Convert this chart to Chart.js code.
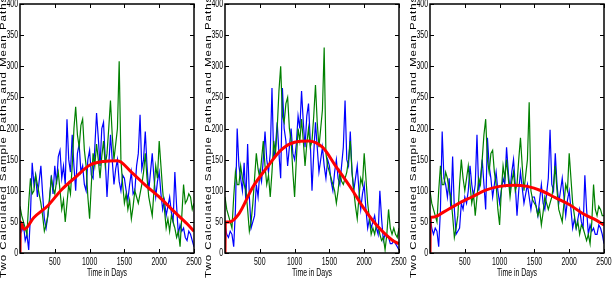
<!DOCTYPE html>
<html>
<head>
<meta charset="utf-8">
<script src="https://cdn.jsdelivr.net/npm/chart.js@4.4.1/dist/chart.umd.min.js"></script>
<style>
html, body { margin: 0; padding: 0; background: #fff; }
#wrap { position: relative; width: 612px; height: 282px; overflow: hidden; }
canvas { position: absolute; top: 0; }
</style>
</head>
<body>
<div id="wrap">
<canvas id="c1" width="205" height="282" style="left:0px"></canvas>
<canvas id="c2" width="205" height="282" style="left:205px"></canvas>
<canvas id="c3" width="205" height="282" style="left:410px"></canvas>
</div>
<script>
// sample paths, read every 25 days
const days = [0,25,50,75,100,125,150,175,200,225,250,275,300,325,350,375,400,425,450,475,
  500,525,550,575,600,625,650,675,700,725,750,775,800,825,850,875,900,925,950,975,
  1000,1025,1050,1075,1100,1125,1150,1175,1200,1225,1250,1275,1300,1325,1350,1375,1400,1425,1450,1475,
  1500,1525,1550,1575,1600,1625,1650,1675,1700,1725,1750,1775,1800,1825,1850,1875,1900,1925,1950,1975,
  2000,2025,2050,2075,2100,2125,2150,2175,2200,2225,2250,2275,2300,2325,2350,2375,2400,2425,2450,2475,2500];

const blue1 = [50,35,45,20,30,5,60,145,110,125,
  90,115,140,95,55,40,60,85,125,95,
  140,110,155,165,120,140,110,215,150,130,
  190,140,100,160,175,130,140,110,100,150,
  165,125,120,170,225,185,140,200,210,150,
  90,140,190,150,110,135,150,115,100,125,
  120,100,85,110,130,95,100,140,160,222,
  135,150,195,140,100,130,160,120,90,115,
  130,95,70,85,60,75,90,65,50,130,
  75,30,45,35,40,25,20,35,30,20,
  10];
const green1 = [75,60,50,40,30,80,120,95,100,125,
  110,95,80,60,35,45,60,90,120,105,
  95,115,130,100,70,85,50,80,110,95,
  140,200,235,190,170,205,215,165,140,90,
  55,110,160,140,175,150,120,155,180,140,
  160,200,245,190,150,175,200,308,150,110,
  80,95,70,85,55,75,100,90,80,95,
  110,130,160,120,90,75,60,100,140,120,
  180,140,100,70,40,55,35,60,50,40,
  25,35,10,60,110,80,85,95,90,70,
  80];

const blue2 = [45,30,25,35,30,10,70,200,140,120,
  100,145,80,175,90,40,50,60,110,90,
  130,115,150,195,150,130,160,265,150,170,
  210,160,120,265,200,180,140,170,200,160,
  150,175,220,200,260,210,170,220,240,180,
  100,160,210,170,130,150,170,140,120,150,
  140,115,100,130,150,120,110,140,170,245,
  150,140,195,130,100,120,140,100,70,95,
  110,70,40,55,40,50,60,40,30,100,
  55,20,30,25,25,15,15,20,15,10,
  5];
const green2 = [90,70,60,50,40,90,130,110,110,140,
  120,110,100,70,35,50,80,120,160,135,
  120,150,180,140,110,125,90,130,180,160,
  200,260,300,220,210,240,250,200,180,130,
  90,150,200,180,215,180,140,175,200,170,
  180,220,270,210,170,200,230,330,160,140,
  130,120,110,100,80,100,130,115,110,120,
  130,150,180,130,100,75,55,90,120,110,
  160,120,80,55,30,40,30,45,45,30,
  20,25,5,30,70,40,30,40,30,25,
  40];

const blue3 = [60,40,30,40,35,10,70,195,120,110,
  90,120,70,155,70,30,35,40,80,70,
  90,80,100,140,110,90,110,190,100,120,
  150,110,70,185,140,120,90,110,130,100,
  80,100,120,110,170,130,100,130,150,110,
  60,100,130,105,80,95,110,90,70,90,
  90,75,60,85,110,80,70,95,120,198,
  110,100,160,110,80,100,120,90,60,85,
  100,70,40,55,40,55,70,50,40,125,
  70,30,45,35,40,30,30,45,40,30,
  15];
const green3 = [100,80,70,60,50,100,140,110,110,130,
  120,100,90,60,25,40,60,110,150,120,
  100,120,140,110,80,95,60,90,120,110,
  150,190,215,150,130,160,165,130,110,70,
  45,100,140,120,150,120,90,115,130,100,
  110,150,185,140,100,125,150,242,100,85,
  80,75,60,70,45,65,90,80,70,80,
  90,110,140,100,70,60,50,80,110,100,
  160,120,80,60,40,50,30,45,40,30,
  20,30,15,50,110,70,60,75,70,60,
  60];

// mean paths
const meanDays = [0,5,60,200,400,600,800,1000,1200,1400,1600,1800,2000,2200,2400,2500];
const mean1 = [0,50,38,57,76,102,122,141,147,148,130,109,90,68,47,35];
const mean2 = [0,50,50,63,106,137,165,178,180,170,138,106,71,42,21,15];
const mean3 = [0,57,58,66,79,90,101,107,109,107,100,89,78,63,52,45];

const xTicks = [500,1000,1500,2000,2500];
const yTicks = [0,50,100,150,200,250,300,350,400];
const xTitle = 'Time in Days';
const yTitle = 'Two Calculated Sample Paths and Mean Paths';

const FONT = '"Liberation Sans", Arial, sans-serif';

function points(xs, ys) {
    return xs.map((x, i) => ({ x: x, y: ys[i] }));
}

function squeezed(ctx, text, x, y, align) {
    ctx.save();
    ctx.translate(x, y);
    ctx.scale(0.63, 1);
    ctx.textAlign = align;
    ctx.textBaseline = 'middle';
    ctx.fillText(text, 0, 0);
    ctx.restore();
}

// matlab style box, inward ticks and labels
const axesPlugin = {
    id: 'matlabAxes',
    afterDraw(chart) {
        const ctx = chart.ctx;
        const a = chart.chartArea;
        const sx = chart.scales.x;
        const sy = chart.scales.y;
        ctx.save();
        ctx.strokeStyle = '#000';
        ctx.lineWidth = 1.5;
        ctx.strokeRect(a.left, a.top, a.right - a.left, a.bottom - a.top);

        ctx.lineWidth = 1;
        ctx.beginPath();
        xTicks.forEach(v => {
            const px = Math.round(sx.getPixelForValue(v)) + 0.5;
            ctx.moveTo(px, a.bottom); ctx.lineTo(px, a.bottom - 4);
            ctx.moveTo(px, a.top); ctx.lineTo(px, a.top + 4);
        });
        yTicks.forEach(v => {
            const py = Math.round(sy.getPixelForValue(v)) + 0.5;
            ctx.moveTo(a.left, py); ctx.lineTo(a.left + 4, py);
            ctx.moveTo(a.right, py); ctx.lineTo(a.right - 4, py);
        });
        ctx.stroke();

        ctx.fillStyle = '#000';
        ctx.font = '11px ' + FONT;
        xTicks.forEach(v => {
            squeezed(ctx, String(v), sx.getPixelForValue(v), 262, 'center');
        });
        yTicks.forEach(v => {
            squeezed(ctx, String(v), a.left - 2, sy.getPixelForValue(v), 'right');
        });
        squeezed(ctx, xTitle, (a.left + a.right) / 2, 273, 'center');

        ctx.save();
        ctx.translate(6.2, 278);
        ctx.rotate(-Math.PI / 2);
        ctx.scale(1, 0.75);
        ctx.font = '11.5px ' + FONT;
        ctx.letterSpacing = '1px';
        ctx.textAlign = 'left';
        ctx.textBaseline = 'alphabetic';
        ctx.fillText(yTitle, 0, 0);
        ctx.restore();

        ctx.restore();
    }
};

function makeChart(id, blue, green, mean) {
    const ctx = document.getElementById(id).getContext('2d');
    return new Chart(ctx, {
        type: 'line',
        data: {
            datasets: [{
                label: 'Mean Path',
                data: points(meanDays, mean),
                borderColor: '#ff0000',
                borderWidth: 3,
                cubicInterpolationMode: 'monotone',
                order: 0
            }, {
                label: 'Sample Path 2',
                data: points(days, green),
                borderColor: '#008000',
                borderWidth: 1.2,
                order: 1
            }, {
                label: 'Sample Path 1',
                data: points(days, blue),
                borderColor: '#0000ff',
                borderWidth: 1.2,
                order: 2
            }]
        },
        options: {
            responsive: false,
            animation: false,
            events: [],
            layout: { padding: { left: 20, right: 11, top: 4, bottom: 29 } },
            elements: { point: { radius: 0 }, line: { tension: 0, fill: false } },
            plugins: { legend: { display: false }, tooltip: { enabled: false } },
            scales: {
                x: { type: 'linear', min: 0, max: 2500, display: false },
                y: { type: 'linear', min: 0, max: 400, display: false }
            }
        },
        plugins: [axesPlugin]
    });
}

makeChart('c1', blue1, green1, mean1);
makeChart('c2', blue2, green2, mean2);
makeChart('c3', blue3, green3, mean3);
</script>
</body>
</html>
